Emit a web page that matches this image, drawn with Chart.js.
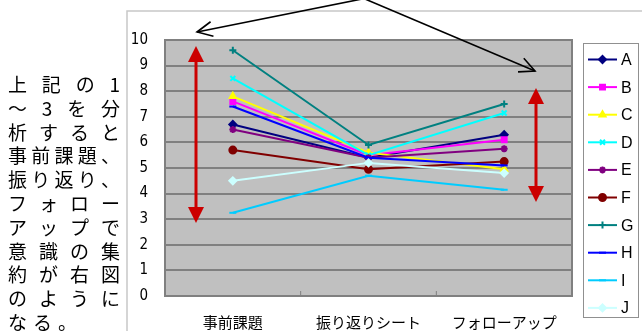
<!DOCTYPE html>
<html><head><meta charset="utf-8">
<script src="https://cdn.jsdelivr.net/npm/chart.js@4/dist/chart.umd.min.js"></script>
<style>
html,body{margin:0;padding:0;background:#fff;width:642px;height:331px;overflow:hidden;}
#wrap{position:absolute;left:0;top:0;width:642px;height:331px;}
canvas{position:absolute;left:0;top:0;}
.ln{position:absolute;left:8px;width:112px;height:24px;line-height:24px;display:flex;justify-content:space-between;font-family:"Noto Sans CJK JP";font-size:19px;color:#000;}
.ln.last{justify-content:flex-start;gap:6px;}
</style></head>
<body>
<div id="wrap"><canvas id="c" width="642" height="331"></canvas><div id="txt"></div></div>
<script>
// ---- data ----
const categories = ['事前課題', '振り返りシート', 'フォローアップ'];
const seriesNames = ['A', 'B', 'C', 'D', 'E', 'F', 'G', 'H', 'I', 'J'];
const A = [6.7, 5.4, 6.3];
const B = [7.6, 5.5, 6.1];
const C = [7.8, 5.6, 4.95];
const D = [8.5, 5.5, 7.15];
const E = [6.5, 5.4, 5.75];
const F = [5.7, 4.95, 5.25];
const G = [9.6, 5.9, 7.5];
const H = [7.4, 5.4, 5.1];
const I = [3.25, 4.7, 4.15];
const J = [4.5, 5.2, 4.8];
const yTicks = [0, 1, 2, 3, 4, 5, 6, 7, 8, 9, 10];
const leftText = ['上記の1', '～3を分', '析すると', '事前課題、', '振り返り、', 'フォロー', 'アップで', '意識の集', '約が右図', 'のように', 'なる。'];

// ---- styles ----
const seriesValues = [A, B, C, D, E, F, G, H, I, J];
const colors = ['#000080', '#ff00ff', '#ffff00', '#00ffff', '#800080', '#800000', '#008080', '#0000ff', '#00ccff', '#ccffff'];
const markers = ['rectRot', 'rect', 'triangle', 'crossRot', 'star', 'circle', 'cross', 'line', 'line', 'rectRot'];

// left text as HTML
const txt = document.getElementById('txt');
leftText.forEach((line, i) => {
  const d = document.createElement('div');
  d.className = 'ln' + (i === leftText.length - 1 ? ' last' : '');
  d.style.top = (84 + i * 23.8 - 12) + 'px';
  for (const ch of line) { const s = document.createElement('span'); s.textContent = ch; d.appendChild(s); }
  txt.appendChild(d);
});

const datasets = seriesNames.map((n, i) => ({
  label: n,
  data: seriesValues[i],
  borderColor: colors[i],
  backgroundColor: colors[i],
  borderWidth: 2,
  pointStyle: markers[i],
  pointRadius: 3.5,
  pointBorderWidth: 2,
  pointBorderColor: colors[i],
  pointBackgroundColor: colors[i],
  tension: 0,
  order: seriesNames.length - i
}));

function redArrow(ctx, x, yTop, yBot) {
  ctx.save();
  ctx.strokeStyle = '#cc0000'; ctx.fillStyle = '#cc0000'; ctx.lineWidth = 3;
  ctx.beginPath(); ctx.moveTo(x, yTop + 12); ctx.lineTo(x, yBot - 12); ctx.stroke();
  ctx.beginPath(); ctx.moveTo(x, yTop); ctx.lineTo(x - 8, yTop + 16); ctx.lineTo(x + 8, yTop + 16); ctx.closePath(); ctx.fill();
  ctx.beginPath(); ctx.moveTo(x, yBot); ctx.lineTo(x - 8, yBot - 16); ctx.lineTo(x + 8, yBot - 16); ctx.closePath(); ctx.fill();
  ctx.restore();
}
function blackArrow(ctx, x0, y0, x1, y1) {
  ctx.save();
  ctx.strokeStyle = '#000'; ctx.lineWidth = 1.6;
  ctx.beginPath(); ctx.moveTo(x0, y0); ctx.lineTo(x1, y1); ctx.stroke();
  const a = Math.atan2(y1 - y0, x1 - x0), L = 17, w = 0.45;
  ctx.beginPath();
  ctx.moveTo(x1 - L * Math.cos(a - w), y1 - L * Math.sin(a - w));
  ctx.lineTo(x1, y1);
  ctx.lineTo(x1 - L * Math.cos(a + w), y1 - L * Math.sin(a + w));
  ctx.stroke();
  ctx.restore();
}

const deco = {
  id: 'deco',
  beforeDraw(chart) {
    const ctx = chart.ctx, ca = chart.chartArea;
    ctx.save();
    ctx.strokeStyle = '#c8c8c8'; ctx.lineWidth = 1.5;
    ctx.beginPath(); ctx.moveTo(642, 11); ctx.lineTo(127, 11); ctx.lineTo(127, 331); ctx.stroke();
    ctx.fillStyle = '#c0c0c0';
    ctx.fillRect(ca.left, ca.top, ca.right - ca.left, ca.bottom - ca.top);
    ctx.restore();
  },
  beforeDatasetsDraw(chart) {
    const ctx = chart.ctx, ca = chart.chartArea;
    ctx.save();
    ctx.strokeStyle = '#808080'; ctx.lineWidth = 2;
    ctx.strokeRect(ca.left, ca.top, ca.right - ca.left, ca.bottom - ca.top);
    const xs = chart.scales.x;
    ctx.lineWidth = 1;
    for (let k = 1; k < categories.length; k++) {
      const xx = (xs.getPixelForValue(k - 1) + xs.getPixelForValue(k)) / 2;
      ctx.beginPath(); ctx.moveTo(xx, ca.bottom); ctx.lineTo(xx, ca.bottom - 5); ctx.stroke();
    }
    ctx.restore();
  },
  afterDraw(chart) {
    const ctx = chart.ctx;
    ctx.save();
    ctx.fillStyle = '#fff'; ctx.fillRect(583, 43, 55, 274);
    ctx.strokeStyle = '#909090'; ctx.lineWidth = 1; ctx.strokeRect(583.5, 43.5, 55, 274);
    seriesNames.forEach((n, i) => {
      const y = 59.5 + i * 27.6;
      ctx.strokeStyle = colors[i]; ctx.lineWidth = 2;
      ctx.beginPath(); ctx.moveTo(588, y); ctx.lineTo(617, y); ctx.stroke();
      ctx.fillStyle = colors[i]; ctx.strokeStyle = colors[i]; ctx.lineWidth = 2;
      Chart.helpers.drawPoint(ctx, { pointStyle: markers[i], radius: 3.5, borderWidth: 2, rotation: 0 }, 602.5, y);
      ctx.fillStyle = '#000'; ctx.font = '16px "Liberation Sans"'; ctx.textBaseline = 'middle'; ctx.textAlign = 'left';
      ctx.fillText(n, 621, y + 1);
    });
    ctx.restore();
    redArrow(ctx, 196, 46, 223);
    redArrow(ctx, 536, 88, 202);
    blackArrow(ctx, 362, -1, 197, 32);
    blackArrow(ctx, 365, -1, 535, 71);
  }
};

new Chart(document.getElementById('c'), {
  type: 'line',
  data: { labels: categories, datasets },
  plugins: [deco],
  options: {
    responsive: false, animation: false, devicePixelRatio: 1,
    layout: { padding: { left: 125, right: 70, top: 40, bottom: 0 } },
    plugins: { legend: { display: false }, tooltip: { enabled: false } },
    scales: {
      x: {
        offset: true,
        grid: { display: false, drawTicks: false },
        border: { display: false },
        ticks: { color: '#000', padding: 17, font: { family: '"Noto Sans CJK JP"', size: 15 }, maxRotation: 0, autoSkip: false },
        afterFit(s) { s.height = 35; }
      },
      y: {
        min: 0, max: 10,
        afterBuildTicks(s) { s.ticks = yTicks.map(v => ({ value: v })); },
        grid: { color: '#808080', lineWidth: 2, drawTicks: false },
        border: { display: false },
        ticks: { color: '#000', padding: 17, font: { family: '"DejaVu Sans Condensed", "Liberation Sans", sans-serif', size: 15 } },
        afterFit(s) { s.width = 40; }
      }
    }
  }
});
</script>
</body></html>
